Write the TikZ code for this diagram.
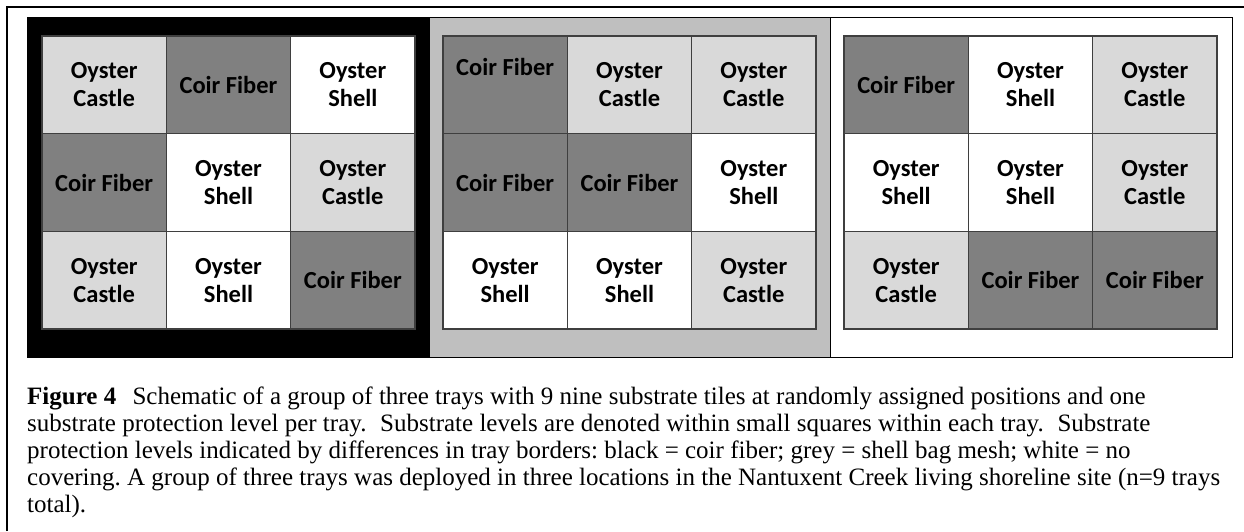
\documentclass[tikz,border=0pt]{standalone}
\usepackage{fontspec}
\setmainfont{Liberation Serif}
\newfontfamily\tilefont{Carlito}[BoldFont={Carlito Bold}]
\frenchspacing
\definecolor{castlegrey}{HTML}{D9D9D9}
\definecolor{coirgrey}{HTML}{808080}
\definecolor{meshgrey}{HTML}{BFBFBF}
\definecolor{cellline}{HTML}{3F3F3F}
\tikzset{
  tilebox/.style={draw=cellline, line width=1.3pt, inner sep=0pt,
    minimum width=124.33pt, minimum height=97.67pt, align=center,
    font=\tilefont\bfseries\fontsize{24.5}{28}\selectfont},
  castle/.style={tilebox, fill=castlegrey, node contents={Oyster\\Castle}},
  shell/.style={tilebox, fill=white, node contents={Oyster\\Shell}},
  coir/.style={tilebox, fill=coirgrey, node contents={Coir Fiber}},
  coirtop/.style={tilebox, fill=coirgrey, node contents={Coir Fiber\\\strut}},
  tray/.style={draw=black, line width=1pt},
  capline/.style={anchor=base west, inner sep=0pt,
    font=\fontsize{25}{27}\selectfont}
}
% one tile: name, column, row, kind
\newcommand\tile[4]{\node (#1) at ({62.17+124.33*#2},{48.83+97.67*#3}) [#4];}
\begin{document}
\begin{tikzpicture}[x=1pt,y=-1pt]
\useasboundingbox (0,0) rectangle (1244,531);
\fill[white] (0,0) rectangle (1244,531);
% frame (top and left rules)
\draw[line width=2pt] (7,531) -- (7,7) -- (1244,7);

% tray borders: black = coir fiber, grey = shell bag mesh, white = none
\filldraw[tray, fill=black] (27,17) rectangle (429,357);
\filldraw[tray, fill=meshgrey] (429,17) rectangle (830,357);
\filldraw[tray, fill=white] (830,17) rectangle (1232,357);

% tray 1
\begin{scope}[shift={(42,36)}]
  \tile{a11}{0}{0}{castle} \tile{a12}{1}{0}{coir}  \tile{a13}{2}{0}{shell}
  \tile{a21}{0}{1}{coir}   \tile{a22}{1}{1}{shell} \tile{a23}{2}{1}{castle}
  \tile{a31}{0}{2}{castle} \tile{a32}{1}{2}{shell} \tile{a33}{2}{2}{coir}
\end{scope}
% tray 2
\begin{scope}[shift={(443,36)}]
  \tile{b11}{0}{0}{coirtop} \tile{b12}{1}{0}{castle} \tile{b13}{2}{0}{castle}
  \tile{b21}{0}{1}{coir}    \tile{b22}{1}{1}{coir}   \tile{b23}{2}{1}{shell}
  \tile{b31}{0}{2}{shell}   \tile{b32}{1}{2}{shell}  \tile{b33}{2}{2}{castle}
\end{scope}
% tray 3
\begin{scope}[shift={(844,36)}]
  \tile{c11}{0}{0}{coir}   \tile{c12}{1}{0}{shell} \tile{c13}{2}{0}{castle}
  \tile{c21}{0}{1}{shell}  \tile{c22}{1}{1}{shell} \tile{c23}{2}{1}{castle}
  \tile{c31}{0}{2}{castle} \tile{c32}{1}{2}{coir}  \tile{c33}{2}{2}{coir}
\end{scope}

% caption
\node[capline] (cap1) at (27,404) {\textbf{Figure 4}\hspace{0.65em}Schematic of a group of three trays with 9 nine substrate tiles at randomly assigned positions and one};
\node[capline] (cap2) at (27,431) {substrate protection level per tray.\hspace{0.55em}Substrate levels are denoted within small squares within each tray.\hspace{0.55em}Substrate};
\node[capline] (cap3) at (27,458) {protection levels indicated by differences in tray borders: black = coir fiber; grey = shell bag mesh; white = no};
\node[capline] (cap4) at (27,485) {covering. A group of three trays was deployed in three locations in the Nantuxent Creek living shoreline site (n=9 trays};
\node[capline] (cap5) at (27,512) {total).};
\end{tikzpicture}
\end{document}
